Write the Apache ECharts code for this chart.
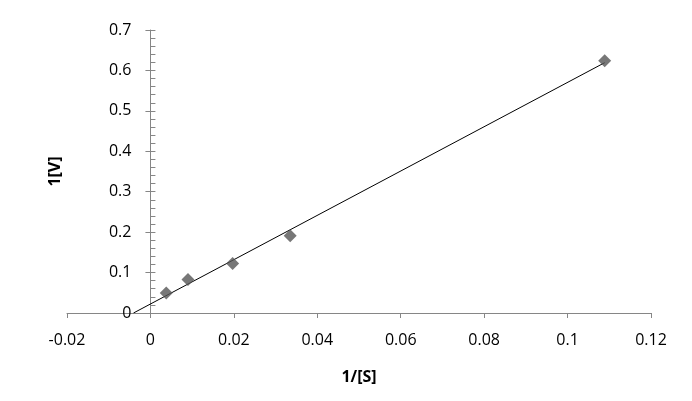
<!DOCTYPE html>
<html>
<head>
<meta charset="utf-8">
<script src="https://cdn.jsdelivr.net/npm/echarts@6/dist/echarts.min.js"></script>
<style>html,body{margin:0;padding:0;background:#fff}#c{width:692px;height:401px}</style>
</head>
<body>
<div id="c"></div>
<script>
const xValues = [0.0038, 0.0090, 0.0197, 0.0335, 0.1089];
const yValues = [0.0496, 0.0828, 0.1225, 0.191, 0.624];
const xTicks = ['-0.02', '0', '0.02', '0.04', '0.06', '0.08', '0.1', '0.12'];
const yTicks = ['0', '0.1', '0.2', '0.3', '0.4', '0.5', '0.6', '0.7'];
const xTitle = '1/[S]';
const yTitle = '1[V]';

// least-squares trendline from data
const n = xValues.length;
const mx = xValues.reduce((a, b) => a + b, 0) / n;
const my = yValues.reduce((a, b) => a + b, 0) / n;
let sxy = 0, sxx = 0;
for (let i = 0; i < n; i++) { sxy += (xValues[i] - mx) * (yValues[i] - my); sxx += (xValues[i] - mx) ** 2; }
const slope = sxy / sxx, intercept = my - slope * mx;
const xStart = -intercept / slope, xEnd = Math.max(...xValues);
const trend = [[xStart, 0], [xEnd, slope * xEnd + intercept]];

const W = 692, gridLeft = 67, gridRight = 41;
const xMin = -0.02, xMax = 0.12;
// y axis crosses the x axis at x = 0
const yAxisOffset = -(W - gridLeft - gridRight) * (0 - xMin) / (xMax - xMin);

const font = 'Open Sans';
const axisColor = '#868686';
const chart = echarts.init(document.getElementById('c'));
chart.setOption({
  animation: false,
  grid: { left: gridLeft, right: gridRight, top: 30, bottom: 88, containLabel: false, outerBoundsMode: 'none' },
  xAxis: {
    type: 'value', min: xMin, max: xMax, interval: 0.02,
    name: xTitle, nameLocation: 'middle', nameGap: 56,
    nameTextStyle: { fontFamily: font, fontSize: 16, fontWeight: 'bold', color: '#000' },
    axisLine: { show: true, onZero: false, lineStyle: { color: axisColor } },
    axisTick: { show: true, length: 5, lineStyle: { color: axisColor } },
    axisLabel: { margin: 19, fontFamily: font, fontSize: 16, color: '#000',
      formatter: (v) => xTicks[Math.round((v - xMin) / 0.02)] },
    splitLine: { show: false }
  },
  yAxis: [{
    type: 'value', min: 0, max: 0.7, interval: 0.1, position: 'left', offset: yAxisOffset,
    name: yTitle, nameLocation: 'middle', nameGap: 87, nameRotate: 90,
    nameTextStyle: { fontFamily: font, fontSize: 16, fontWeight: 'bold', color: '#000' },
    axisLine: { show: true, onZero: false, lineStyle: { color: axisColor } },
    axisTick: { show: true, length: 5, lineStyle: { color: axisColor } },
    axisLabel: { margin: 19, fontFamily: font, fontSize: 16, color: '#000',
      formatter: (v) => yTicks[Math.round(v / 0.1)] },
    splitLine: { show: false }
  }, {
    type: 'value', min: 0, max: 0.7, interval: 0.1, position: 'left', offset: yAxisOffset,
    axisLine: { show: false, onZero: false },
    axisTick: { show: true, inside: true, length: 5, lineStyle: { color: axisColor } },
    minorTick: { show: true, splitNumber: 5, length: 5, lineStyle: { color: axisColor } },
    axisLabel: { show: false },
    splitLine: { show: false }
  }],
  series: [{
    type: 'line', data: trend, yAxisIndex: 0,
    showSymbol: false, symbol: 'none',
    lineStyle: { color: '#000', width: 1 }, z: 3
  }, {
    type: 'scatter', yAxisIndex: 0,
    data: xValues.map((x, i) => [x, yValues[i]]),
    symbol: 'diamond', symbolSize: 13,
    itemStyle: { color: '#555555' }, z: 4
  }]
});
</script>
</body>
</html>
